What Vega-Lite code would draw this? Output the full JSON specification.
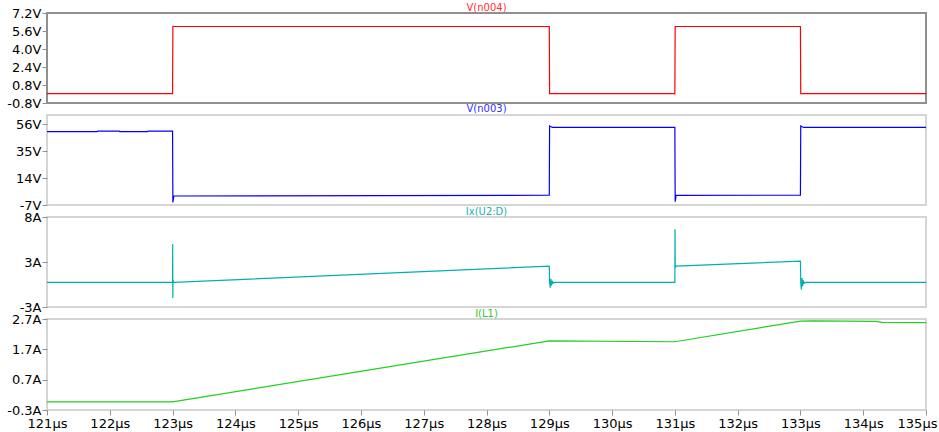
{
  "$schema": "https://vega.github.io/schema/vega-lite/v6.json",
  "padding": {"left": 0, "top": 1, "right": 0, "bottom": 0},
  "background": "white",
  "bounds": "flush",
  "spacing": 12,
  "datasets": {
    "w": [
      {"s": "a", "t": 121, "v": 0.03},
      {"s": "a", "t": 123.0, "v": 0.03},
      {"s": "a", "t": 123.005, "v": 6.0},
      {"s": "a", "t": 129.0, "v": 6.0},
      {"s": "a", "t": 129.005, "v": 0.03},
      {"s": "a", "t": 131.0, "v": 0.03},
      {"s": "a", "t": 131.005, "v": 6.0},
      {"s": "a", "t": 133.0, "v": 6.0},
      {"s": "a", "t": 133.005, "v": 0.03},
      {"s": "a", "t": 135, "v": 0.03},

      {"s": "b", "t": 121, "v": 50.0},
      {"s": "b", "t": 121.8, "v": 50.0},
      {"s": "b", "t": 121.81, "v": 50.4},
      {"s": "b", "t": 122.15, "v": 50.4},
      {"s": "b", "t": 122.16, "v": 50.0},
      {"s": "b", "t": 122.6, "v": 50.0},
      {"s": "b", "t": 122.61, "v": 50.5},
      {"s": "b", "t": 123.0, "v": 50.5},
      {"s": "b", "t": 123.005, "v": -5},
      {"s": "b", "t": 123.02, "v": 0.0},
      {"s": "b", "t": 129.0, "v": 0.6},
      {"s": "b", "t": 129.005, "v": 54.5},
      {"s": "b", "t": 129.05, "v": 53.3},
      {"s": "b", "t": 131.0, "v": 53.3},
      {"s": "b", "t": 131.005, "v": -4.5},
      {"s": "b", "t": 131.02, "v": 0.5},
      {"s": "b", "t": 133.0, "v": 0.6},
      {"s": "b", "t": 133.005, "v": 54.5},
      {"s": "b", "t": 133.05, "v": 53.3},
      {"s": "b", "t": 135, "v": 53.3},

      {"s": "c", "t": 121, "v": 0},
      {"s": "c", "t": 123.0, "v": 0},
      {"s": "c", "t": 123.002, "v": 4.7},
      {"s": "c", "t": 123.004, "v": -1.9},
      {"s": "c", "t": 123.006, "v": 0.3},
      {"s": "c", "t": 123.02, "v": 0.0},
      {"s": "c", "t": 129.0, "v": 2.0},
      {"s": "c", "t": 129.005, "v": 0.0},
      {"s": "c", "t": 129.015, "v": -0.65},
      {"s": "c", "t": 129.025, "v": 0.45},
      {"s": "c", "t": 129.035, "v": -0.35},
      {"s": "c", "t": 129.045, "v": 0.2},
      {"s": "c", "t": 129.06, "v": -0.1},
      {"s": "c", "t": 129.08, "v": 0},
      {"s": "c", "t": 131.0, "v": 0},
      {"s": "c", "t": 131.003, "v": 6.5},
      {"s": "c", "t": 131.006, "v": 1.8},
      {"s": "c", "t": 131.02, "v": 2.0},
      {"s": "c", "t": 133.0, "v": 2.6},
      {"s": "c", "t": 133.005, "v": 0.0},
      {"s": "c", "t": 133.015, "v": -0.85},
      {"s": "c", "t": 133.025, "v": 0.55},
      {"s": "c", "t": 133.035, "v": -0.45},
      {"s": "c", "t": 133.045, "v": 0.25},
      {"s": "c", "t": 133.06, "v": -0.1},
      {"s": "c", "t": 133.08, "v": 0},
      {"s": "c", "t": 135, "v": 0},

      {"s": "d", "t": 121, "v": -0.03},
      {"s": "d", "t": 123.0, "v": -0.03},
      {"s": "d", "t": 129.0, "v": 1.98},
      {"s": "d", "t": 131.0, "v": 1.95},
      {"s": "d", "t": 133.0, "v": 2.63},
      {"s": "d", "t": 133.2, "v": 2.64},
      {"s": "d", "t": 134.2, "v": 2.62},
      {"s": "d", "t": 134.3, "v": 2.59},
      {"s": "d", "t": 135, "v": 2.58}
    ]
  },
  "config": {
    "view": {"stroke": "#c8c8c8", "strokeWidth": 1.5},
    "axis": {
      "grid": false,
      "domain": false,
      "tickColor": "#909090",
      "tickSize": 5,
      "labelFont": "DejaVu Sans",
      "labelFontSize": 13,
      "labelColor": "#000000",
      "labelPadding": 1,
      "labelFlush": false,
      "labelOverlap": false,
      "title": null
    },
    "title": {"font": "DejaVu Sans", "fontSize": 10, "fontWeight": "normal", "anchor": "middle"}
  },
  "vconcat": [
    {
      "width": 879,
      "height": 90,
      "view": {"stroke": "#909090", "strokeWidth": 2},
      "title": {"text": "V(n004)", "color": "#ff3030", "offset": -5.5},
      "data": {"name": "w"},
      "transform": [{"filter": "datum.s === 'a'"}],
      "mark": {"type": "line", "color": "#ff0000", "strokeWidth": 1.2, "clip": true},
      "encoding": {
        "x": {"field": "t", "type": "quantitative", "scale": {"domain": [121, 135], "nice": false, "zero": false}, "axis": null},
        "y": {"field": "v", "type": "quantitative", "scale": {"domain": [-0.8, 7.2], "nice": false, "zero": false},
              "axis": {"values": [-0.8, 0.8, 2.4, 4.0, 5.6, 7.2], "labelExpr": "replace(format(datum.value, '.1f'), '\u2212', '-') + 'V'", "minExtent": 46, "maxExtent": 46}}
      }
    },
    {
      "width": 879,
      "height": 90,
      "title": {"text": "V(n003)", "color": "#3030ff", "offset": 1},
      "data": {"name": "w"},
      "transform": [{"filter": "datum.s === 'b'"}],
      "mark": {"type": "line", "color": "#0000ff", "strokeWidth": 1.2, "clip": true},
      "encoding": {
        "x": {"field": "t", "type": "quantitative", "scale": {"domain": [121, 135], "nice": false, "zero": false}, "axis": null},
        "y": {"field": "v", "type": "quantitative", "scale": {"domain": [-7, 63], "nice": false, "zero": false},
              "axis": {"values": [-7, 14, 35, 56], "labelExpr": "replace(format(datum.value, 'd'), '\u2212', '-') + 'V'", "minExtent": 46, "maxExtent": 46}}
      }
    },
    {
      "width": 879,
      "height": 90,
      "title": {"text": "Ix(U2:D)", "color": "#20b0b0", "offset": -5.5},
      "data": {"name": "w"},
      "transform": [{"filter": "datum.s === 'c'"}],
      "mark": {"type": "line", "color": "#00b0b0", "strokeWidth": 1.2, "clip": true},
      "encoding": {
        "x": {"field": "t", "type": "quantitative", "scale": {"domain": [121, 135], "nice": false, "zero": false}, "axis": null},
        "y": {"field": "v", "type": "quantitative", "scale": {"domain": [-3, 8], "nice": false, "zero": false},
              "axis": {"values": [-3, 2.5, 8], "labelExpr": "replace(format(datum.value, '.0f'), '\u2212', '-') + 'A'", "minExtent": 46, "maxExtent": 46}}
      }
    },
    {
      "width": 879,
      "height": 91,
      "title": {"text": "I(L1)", "color": "#30c830", "offset": -5.5},
      "data": {"name": "w"},
      "transform": [{"filter": "datum.s === 'd'"}],
      "mark": {"type": "line", "color": "#20d020", "strokeWidth": 1.2, "clip": true},
      "encoding": {
        "x": {"field": "t", "type": "quantitative", "scale": {"domain": [121, 135], "nice": false, "zero": false},
              "axis": {"values": [121, 122, 123, 124, 125, 126, 127, 128, 129, 130, 131, 132, 133, 134, 135], "labelExpr": "datum.value + 'µs'", "labelPadding": 2,
                       "labelOffset": {"condition": {"test": "datum.value == 135", "value": -9}, "value": 0}}},
        "y": {"field": "v", "type": "quantitative", "scale": {"domain": [-0.3, 2.7], "nice": false, "zero": false},
              "axis": {"values": [-0.3, 0.7, 1.7, 2.7], "labelExpr": "replace(format(datum.value, '.1f'), '\u2212', '-') + 'A'", "minExtent": 46, "maxExtent": 46}}
      }
    }
  ]
}
